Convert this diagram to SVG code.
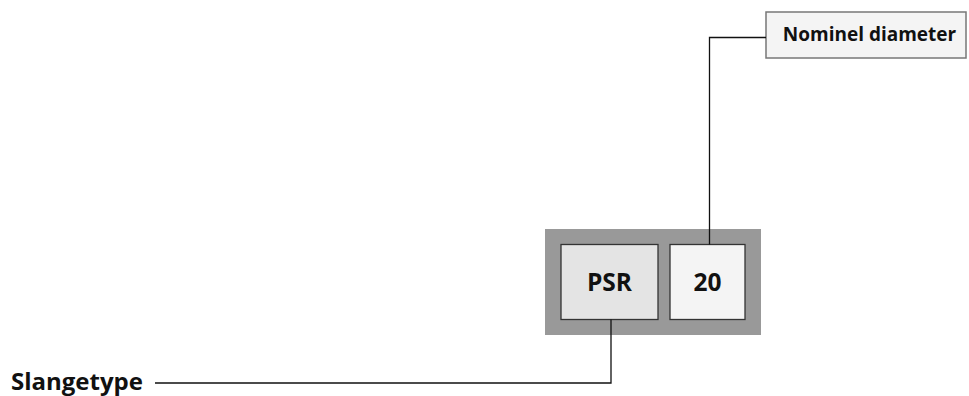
<svg xmlns="http://www.w3.org/2000/svg" width="969" height="396" viewBox="0 0 969 396">
<style>
.t{font-family:"Open Sans","Noto Sans","Liberation Sans",sans-serif;font-weight:bold;fill:#111}
.c{fill:none;stroke:#111;stroke-width:1.3}
.b{stroke:#333;stroke-width:1.3}
</style>
<rect width="969" height="396" fill="#fff"/>
<g id="frame"><rect x="545" y="229" width="216" height="106" fill="#999"/></g>
<g id="psr"><rect class="b" x="561" y="244.5" width="97" height="75" fill="#e4e4e4"/><text class="t" x="609.5" y="291" font-size="24.5" text-anchor="middle">PSR</text></g>
<g id="n20"><rect class="b" x="670" y="244.5" width="75" height="75" fill="#f4f4f4"/><text class="t" x="707.5" y="291" font-size="24.5" text-anchor="middle">20</text></g>
<g id="nominel"><rect x="766" y="12" width="200" height="46" fill="#f4f4f4" stroke="#777" stroke-width="1.5"/><text class="t" x="869.5" y="41" font-size="19" text-anchor="middle">Nominel diameter</text></g>
<g id="slangetype"><text class="t" x="11" y="390" font-size="24">Slangetype</text></g>
<g id="connectors">
<polyline class="c" points="766,37.5 709.5,37.5 709.5,244.5"/>
<polyline class="c" points="611,319.5 611,383 155,383"/>
</g>
</svg>
